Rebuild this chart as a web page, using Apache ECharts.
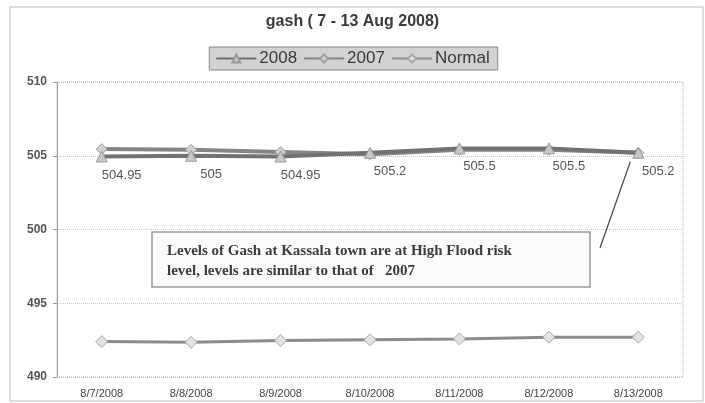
<!DOCTYPE html>
<html>
<head>
<meta charset="utf-8">
<script src="https://cdn.jsdelivr.net/npm/echarts@6/dist/echarts.min.js"></script>
<style>
  html, body { margin: 0; padding: 0; background: #fff; }
  #chart { width: 705px; height: 403px; }
</style>
</head>
<body>
<div id="chart"></div>
<script>
// Gash river gauge levels at Kassala, 7-13 Aug 2008
const dates = ['8/7/2008', '8/8/2008', '8/9/2008', '8/10/2008', '8/11/2008', '8/12/2008', '8/13/2008'];
const levels2008 = [504.95, 505, 504.95, 505.2, 505.5, 505.5, 505.2];
const levels2007 = [505.45, 505.4, 505.25, 505.1, 505.4, 505.4, 505.2];
const levelsNormal = [492.4, 492.35, 492.47, 492.52, 492.58, 492.7, 492.7];
const yTicks = { min: 490, max: 510, step: 5 };
const noteText = 'Levels of Gash at Kassala town are at High Flood risk\nlevel, levels are similar to that of   2007';

const chart = echarts.init(document.getElementById('chart'), null, { renderer: 'canvas' });

const option = {
  backgroundColor: '#fff',
  animation: false,
  title: {
    text: 'gash ( 7 - 13 Aug 2008)',
    left: 'center',
    top: 9,
    textStyle: { fontFamily: 'Liberation Sans', fontSize: 16, fontWeight: 'bold', color: '#3a3a3a' }
  },
  legend: {
    data: ['2008', '2007', 'Normal'],
    top: 47,
    left: 'center',
    itemWidth: 40,
    itemHeight: 10,
    itemGap: 6,
    padding: [3, 8, 3, 6],
    backgroundColor: '#d2d2d2',
    borderColor: '#8a8a8a',
    borderWidth: 1,
    textStyle: { fontFamily: 'Liberation Sans', fontSize: 17, color: '#3a3a3a', padding: [0, 0, 0, -2] }
  },
  grid: { left: 57, right: 22, top: 82, bottom: 26, show: true, borderColor: '#b5b5b5', borderWidth: 1, borderType: 'dotted' },
  xAxis: {
    type: 'category',
    data: dates,
    boundaryGap: true,
    axisLine: { show: false },
    axisTick: { show: false },
    axisLabel: { fontFamily: 'Liberation Sans Narrow, Liberation Sans', fontSize: 11, color: '#444', margin: 11 }
  },
  yAxis: {
    type: 'value',
    min: yTicks.min,
    max: yTicks.max,
    interval: yTicks.step,
    axisLine: { show: true, lineStyle: { color: '#9a9a9a', width: 1 } },
    axisTick: { show: true, length: 4, lineStyle: { color: '#9a9a9a' } },
    axisLabel: { fontFamily: 'Liberation Sans', fontSize: 12, fontWeight: 'bold', color: '#555', margin: 10 },
    splitLine: { show: true, lineStyle: { color: '#c4c4c4', type: 'dotted', width: 1 } }
  },
  series: [
    {
      name: '2008',
      type: 'line',
      data: levels2008,
      z: 4,
      symbol: 'triangle',
      symbolSize: 11,
      lineStyle: { color: '#727272', width: 4 },
      itemStyle: { color: '#c8c8c8', borderColor: '#9a9a9a', borderWidth: 1 },
      label: {
        show: true,
        position: 'bottom',
        distance: 6,
        offset: [20, 0],
        fontFamily: 'Liberation Sans',
        fontSize: 13,
        color: '#555'
      }
    },
    {
      name: '2007',
      type: 'line',
      data: levels2007,
      z: 3,
      symbol: 'diamond',
      symbolSize: 11,
      lineStyle: { color: '#858585', width: 4 },
      itemStyle: { color: '#d0d0d0', borderColor: '#a0a0a0', borderWidth: 1 }
    },
    {
      name: 'Normal',
      type: 'line',
      data: levelsNormal,
      z: 3,
      symbol: 'diamond',
      symbolSize: 12,
      lineStyle: { color: '#8c8c8c', width: 3 },
      itemStyle: { color: '#e2e2e2', borderColor: '#a8a8a8', borderWidth: 1 }
    }
  ]
};

chart.setOption(option);

// Note box with a leader line to the last 2008 reading
const last = levels2008.length - 1;
const tip = chart.convertToPixel({ gridIndex: 0 }, [last, levels2008[last]]);
chart.setOption({
  graphic: [
    {
      type: 'rect',
      shape: { x: 10, y: 7, width: 693, height: 394 },
      style: { fill: 'none', stroke: '#cfcfcf', lineWidth: 1.5 },
      silent: true,
      z: 0
    },
    {
      type: 'rect',
      shape: { x: 152, y: 232, width: 438, height: 55 },
      style: { fill: '#fbfbfb', stroke: '#9a9a9a', lineWidth: 1.5 },
      z: 10
    },
    {
      type: 'text',
      x: 167,
      y: 241,
      style: {
        text: noteText,
        font: 'bold 15px "Liberation Serif"',
        fill: '#3c3c3c',
        lineHeight: 20
      },
      z: 11
    },
    {
      type: 'line',
      shape: { x1: 600, y1: 248, x2: tip[0] - 8, y2: tip[1] + 9 },
      style: { stroke: '#444', lineWidth: 1.2 },
      z: 11
    }
  ]
});
</script>
</body>
</html>
